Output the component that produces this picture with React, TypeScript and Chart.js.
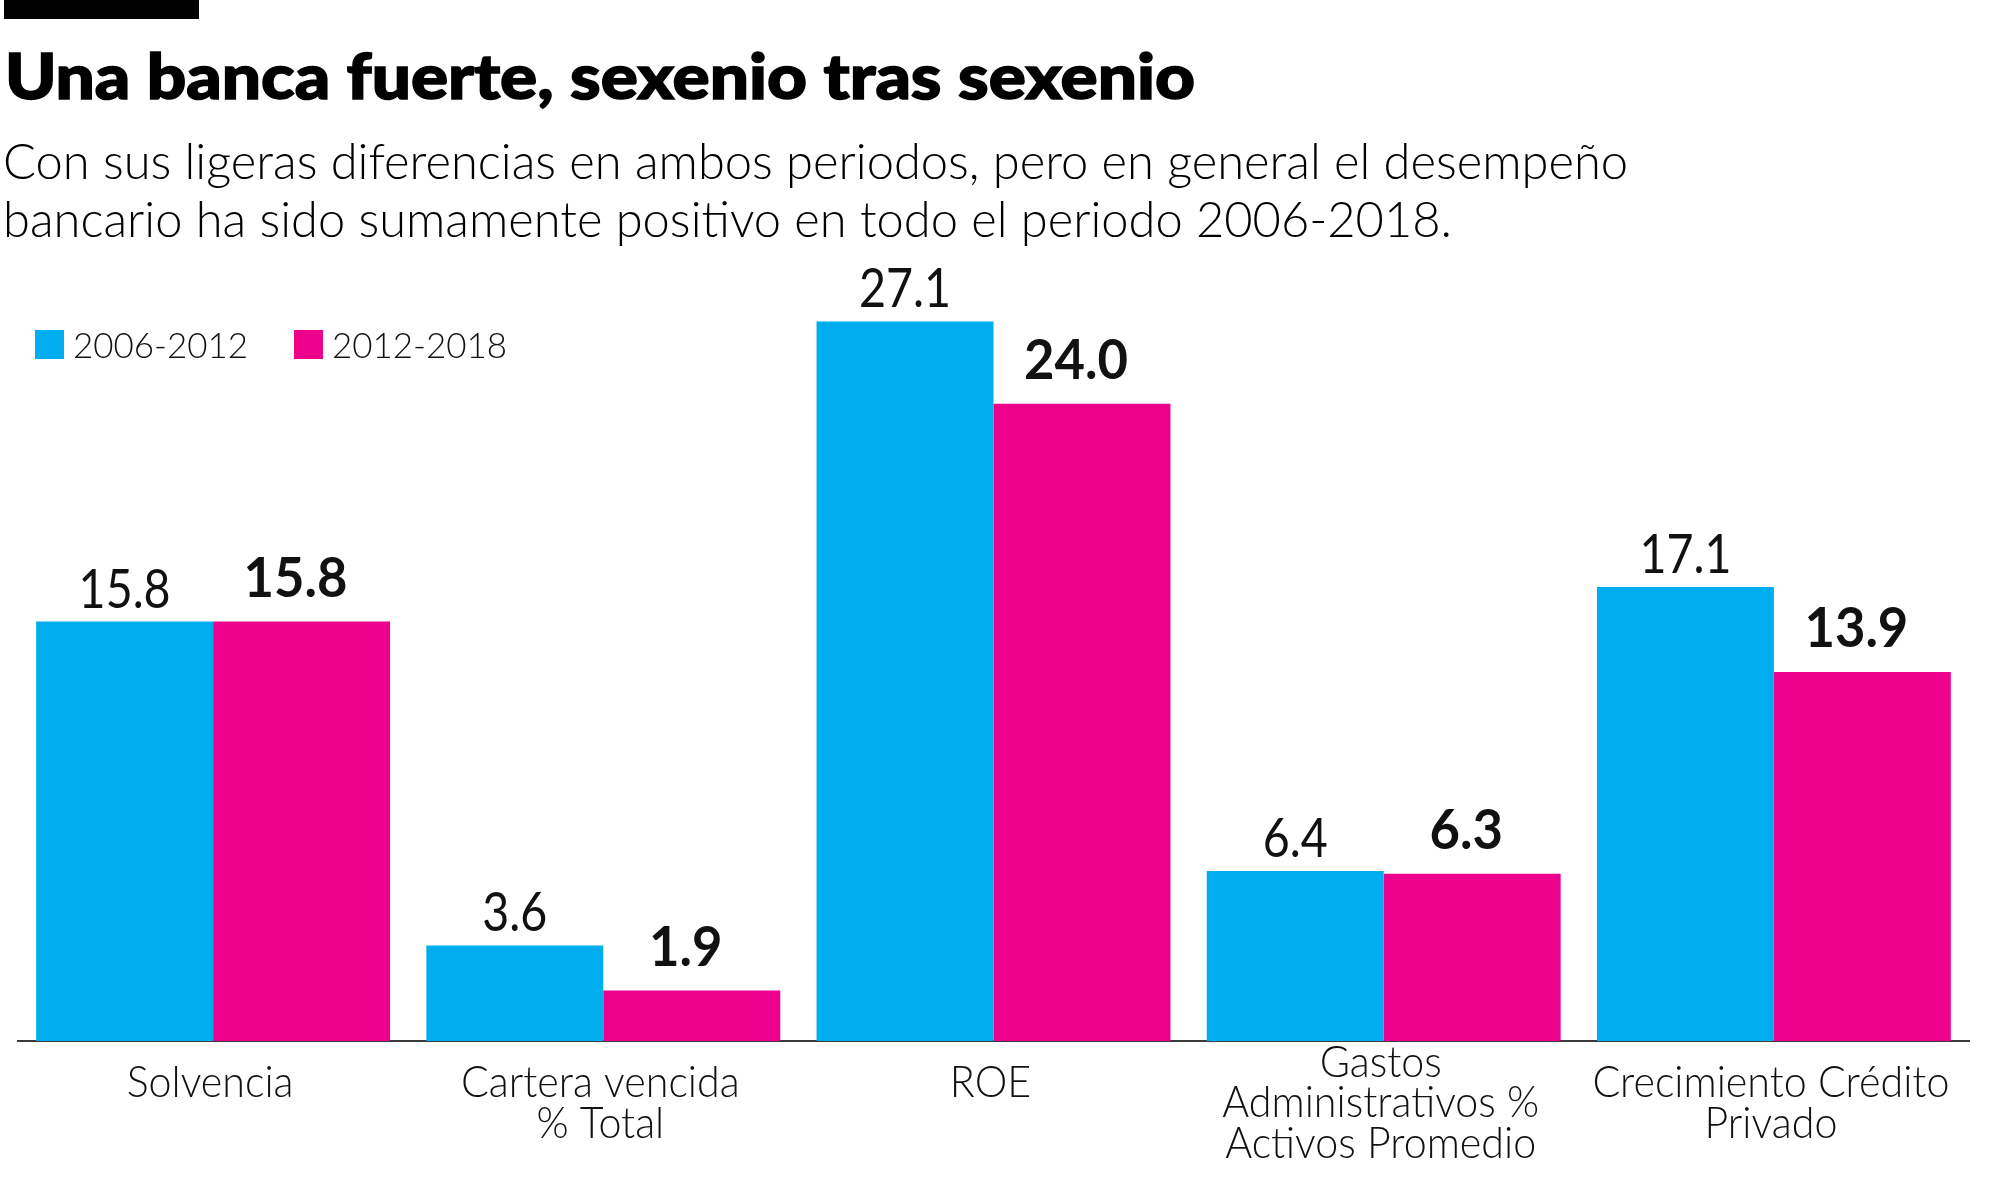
import React, { useEffect, useLayoutEffect, useRef } from 'react';
import { Chart, registerables } from 'chart.js';

Chart.register(...registerables);

// ---- data ----
const categories: string[][] = [
  ['Solvencia'],
  ['Cartera vencida', '% Total'],
  ['ROE'],
  ['Gastos', 'Administrativos %', 'Activos Promedio'],
  ['Crecimiento Crédito', 'Privado'],
];
const seriesNames = ['2006-2012', '2012-2018'];
const values2006_2012 = [15.8, 3.6, 27.1, 6.4, 17.1];
const values2012_2018 = [15.8, 1.9, 24.0, 6.3, 13.9];
const seriesColors = ['#00AEEF', '#EC008C'];
const titleText = 'Una banca fuerte, sexenio tras sexenio';
const subtitleLines = [
  'Con sus ligeras diferencias en ambos periodos, pero en general el desempeño',
  'bancario ha sido sumamente positivo en todo el periodo 2006-2018.',
];

const FONT = 'Lato, "Open Sans", "DejaVu Sans", sans-serif';

function drawScaled(
  ctx: CanvasRenderingContext2D,
  text: string,
  x: number,
  y: number,
  sx: number,
  align: CanvasTextAlign
) {
  ctx.save();
  ctx.translate(x, y);
  ctx.scale(sx, 1);
  ctx.textAlign = align;
  ctx.fillText(text, 0, 0);
  ctx.restore();
}

const overlayPlugin = {
  id: 'overlay',
  afterDraw(chart: any) {
    const ctx: CanvasRenderingContext2D = chart.ctx;
    ctx.save();
    ctx.textBaseline = 'alphabetic';
    ctx.fillStyle = '#111111';

    // value labels
    chart.data.datasets.forEach((ds: any, di: number) => {
      const meta = chart.getDatasetMeta(di);
      ctx.font = (di === 0 ? '400' : '700') + ' 55px ' + FONT;
      const f = (di === 0 ? 92 : 104) / ctx.measureText('15.8').width;
      const gap = di === 0 ? 14 : 25;
      meta.data.forEach((bar: any, i: number) => {
        const v = ds.data[i] as number;
        drawScaled(ctx, v.toFixed(1), bar.x - (di === 0 ? 0 : 6), bar.y - gap, f, 'center');
      });
    });

    // category labels
    const xs = chart.scales.x;
    ctx.font = '300 44px ' + FONT;
    const fc = 357 / ctx.measureText('Crecimiento Crédito').width;
    const lh = 40.5;
    (chart.data.labels as any[]).forEach((lab: any, i: number) => {
      const lines: string[] = Array.isArray(lab) ? lab : [lab];
      const x = xs.getPixelForValue(i) - 3;
      const y0 = xs.top + 56 - (lines.length > 2 ? ((lines.length - 2) * lh) / 2 : 0);
      lines.forEach((ln, j) => drawScaled(ctx, ln, x, y0 + j * lh, fc, 'center'));
    });

    // legend
    ctx.font = '300 36px ' + FONT;
    const fl = 175 / ctx.measureText('2006-2012').width;
    let lx = 35;
    const sq = 29;
    const top = 330;
    chart.data.datasets.forEach((ds: any) => {
      ctx.fillStyle = ds.backgroundColor;
      ctx.fillRect(lx, top, sq, sq);
      ctx.fillStyle = '#111111';
      const tx = lx + sq + 9;
      drawScaled(ctx, ds.label, tx, top + 28, fl, 'left');
      lx = tx + ctx.measureText(ds.label).width * fl + 46;
    });

    ctx.restore();
  },
};

function FitText(props: {
  text: string;
  left: number;
  baseline: number;
  width: number;
  size: number;
  weight: number;
  stroke?: number;
}) {
  const ref = useRef<HTMLDivElement>(null);
  const mark = useRef<HTMLSpanElement>(null);
  useLayoutEffect(() => {
    const el = ref.current;
    const mk = mark.current;
    if (!el || !mk || !el.parentElement) return;
    el.style.transform = 'none';
    el.style.top = '0px';
    const pTop = el.parentElement.getBoundingClientRect().top;
    const base = mk.getBoundingClientRect().bottom - pTop;
    const w = el.getBoundingClientRect().width;
    el.style.top = props.baseline - base + 'px';
    el.style.transform = `scaleX(${props.width / w})`;
  }, []);
  const style: any = {
    position: 'absolute',
    left: props.left,
    top: 0,
    whiteSpace: 'nowrap',
    fontFamily: FONT,
    fontSize: props.size,
    fontWeight: props.weight,
    lineHeight: 1.2,
    color: '#000',
    transformOrigin: '0 0',
  };
  if (props.stroke) style.WebkitTextStroke = props.stroke + 'px #000';
  return (
    <div ref={ref} style={style}>
      {props.text}
      <span
        ref={mark}
        style={{ display: 'inline-block', width: 0, height: 0, verticalAlign: 'baseline' }}
      />
    </div>
  );
}

export default function App() {
  const canvasRef = useRef<HTMLCanvasElement>(null);

  useEffect(() => {
    document.body.style.margin = '0';
    document.body.style.background = '#ffffff';
    const canvas = canvasRef.current;
    if (!canvas) return;
    const chart = new Chart(canvas, {
      type: 'bar',
      data: {
        labels: categories as any,
        datasets: [
          {
            label: seriesNames[0],
            data: values2006_2012,
            backgroundColor: seriesColors[0],
            borderWidth: 0,
            barPercentage: 1,
            categoryPercentage: 0.907,
          },
          {
            label: seriesNames[1],
            data: values2012_2018,
            backgroundColor: seriesColors[1],
            borderWidth: 0,
            barPercentage: 1,
            categoryPercentage: 0.907,
          },
        ],
      },
      options: {
        responsive: false,
        animation: false,
        devicePixelRatio: 1,
        layout: { padding: { left: 18, right: 31, top: 244.5, bottom: 153 } },
        plugins: {
          legend: { display: false },
          tooltip: { enabled: false },
          title: { display: false },
        },
        scales: {
          x: {
            z: 1,
            grid: { display: false, drawTicks: false },
            ticks: { display: false },
            border: { display: true, color: '#3a3a3a', width: 2 },
          },
          y: { display: false, min: 0, max: 30 },
        },
      },
      plugins: [overlayPlugin],
    });
    return () => chart.destroy();
  }, []);

  return (
    <div style={{ position: 'relative', width: 2000, height: 1194, background: '#fff', overflow: 'hidden' }}>
      <div style={{ position: 'absolute', left: 4, top: 0, width: 195, height: 19, background: '#000' }} />
      <FitText text={titleText} left={5} baseline={99} width={1190} size={63} weight={900} stroke={1.5} />
      <FitText text={subtitleLines[0]} left={3} baseline={179} width={1625} size={49} weight={300} />
      <FitText text={subtitleLines[1]} left={3} baseline={237} width={1449} size={49} weight={300} />
      <canvas
        ref={canvasRef}
        width={2000}
        height={1194}
        style={{ position: 'absolute', left: 0, top: 0, width: 2000, height: 1194, display: 'block' }}
      />
    </div>
  );
}
